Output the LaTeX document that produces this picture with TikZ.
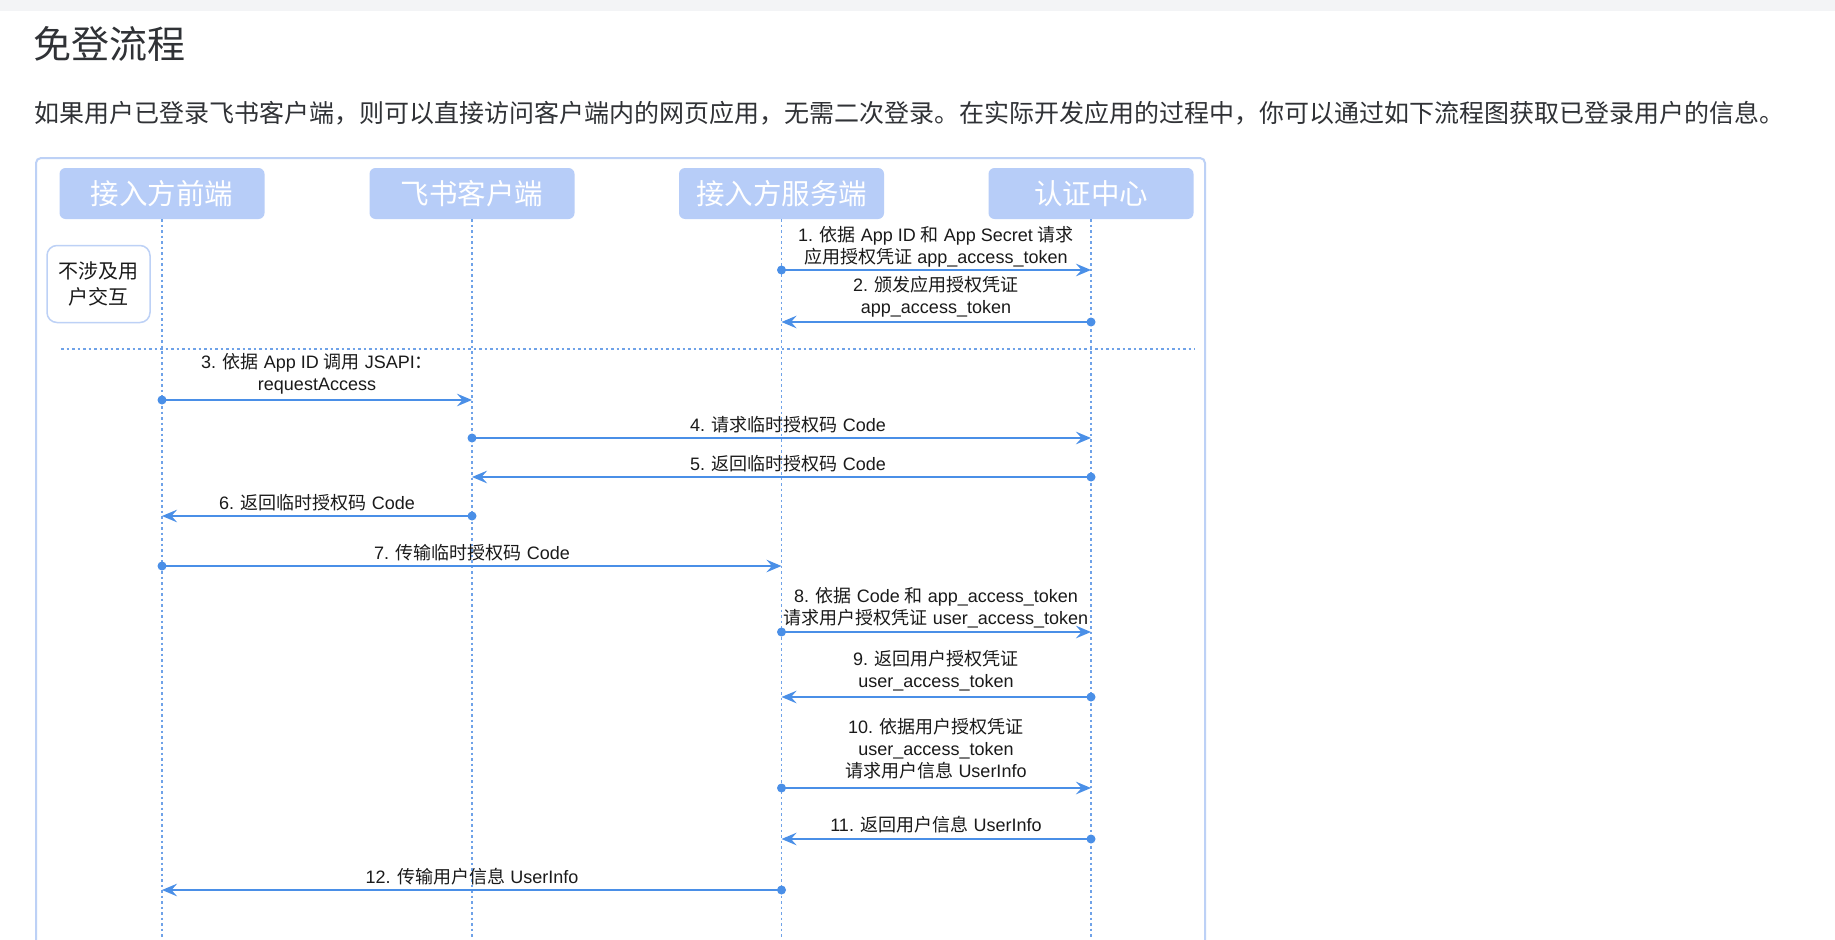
\documentclass[tikz,border=0pt]{standalone}
\usepackage{fontspec}
\setmainfont{Liberation Sans}
\newfontfamily\cjk{Noto Sans CJK SC}
\usetikzlibrary{arrows.meta}
\definecolor{arrowblue}{HTML}{4A8FE7}
\definecolor{lifeblue}{HTML}{6FA2E8}
\definecolor{hdrfill}{HTML}{B7CDF8}
\definecolor{framecol}{HTML}{BDD1F6}
\definecolor{topgray}{HTML}{F3F4F6}
\definecolor{titletext}{HTML}{303236}
\definecolor{labeltext}{HTML}{1A1A1A}
\newcommand{\lastdp}{\rule[-5pt]{0pt}{5pt}}
\tikzset{
  hdr/.style={fill=hdrfill, rounded corners=6pt, minimum width=205pt, minimum height=51pt,
    text=white, font=\cjk\fontsize{28.5}{30}\selectfont, inner sep=0pt},
  sidebox/.style={draw=framecol, line width=1.5pt, fill=white, rounded corners=10pt,
    minimum width=103pt, minimum height=77pt, inner sep=0pt, align=center,
    text=labeltext, font=\cjk\fontsize{20}{26}\selectfont},
  life/.style={draw=lifeblue, line width=1.2pt, dash pattern=on 2.5pt off 3pt},
  msg/.style={draw=arrowblue, line width=2.4pt, -{Stealth[length=15pt,width=12.5pt,inset=5.5pt]}},
  lbl/.style={anchor=south, inner sep=0pt, align=center,
    font=\fontsize{18}{22}\selectfont, text=labeltext},
}
\begin{document}
\begin{tikzpicture}[x=1pt,y=-1pt]
\useasboundingbox (0,0) rectangle (1835,939);
\fill[white] (0,0) rectangle (1835,939);
\fill[topgray] (0,0) rectangle (1835,11);

% title and intro
\node[anchor=base west, inner sep=0pt, text=titletext, font=\cjk\fontsize{38}{42}\selectfont]
  (title) at (33,59) {免登流程};
\node[anchor=base west, inner sep=0pt, text=titletext, font=\cjk\fontsize{25}{28}\selectfont]
  (intro) at (34,123) {如果用户已登录飞书客户端，则可以直接访问客户端内的网页应用，无需二次登录。在实际开发应用的过程中，你可以通过如下流程图获取已登录用户的信息。};

% frame
\begin{scope}
\clip (0,0) rectangle (1835,939);
\draw[framecol, line width=2pt, rounded corners=5pt] (36,158) rectangle (1205,980);
\end{scope}

% headers
\node[hdr] (h1) at (162,193.5) {接入方前端};
\node[hdr] (h2) at (472,193.5) {飞书客户端};
\node[hdr] (h3) at (781.5,193.5) {接入方服务端};
\node[hdr] (h4) at (1091,193.5) {认证中心};

% lifelines
\coordinate (e1) at (162,939);
\coordinate (e2) at (472,939);
\coordinate (e3) at (781.5,939);
\coordinate (e4) at (1091,939);
\draw[life] (h1.south) -- (e1);
\draw[life] (h2.south) -- (e2);
\draw[life] (h3.south) -- (e3);
\draw[life] (h4.south) -- (e4);

% side note
\node[sidebox] (note) at (98.5,284) {不涉及用\\户交互};

% separator
\coordinate (sepL) at (61,349);
\coordinate (sepR) at (1195,349);
\draw[life] (sepL) -- (sepR);

% message end points
\coordinate (m1s) at (781.5,270);  \coordinate (m1e) at (1091,270);
\coordinate (m2s) at (1091,322);   \coordinate (m2e) at (781.5,322);
\coordinate (m3s) at (162,400);    \coordinate (m3e) at (472,400);
\coordinate (m4s) at (472,438);    \coordinate (m4e) at (1091,438);
\coordinate (m5s) at (1091,477);   \coordinate (m5e) at (472,477);
\coordinate (m6s) at (472,516);    \coordinate (m6e) at (162,516);
\coordinate (m7s) at (162,566);    \coordinate (m7e) at (781.5,566);
\coordinate (m8s) at (781.5,632);  \coordinate (m8e) at (1091,632);
\coordinate (m9s) at (1091,697);   \coordinate (m9e) at (781.5,697);
\coordinate (m10s) at (781.5,788); \coordinate (m10e) at (1091,788);
\coordinate (m11s) at (1091,839);  \coordinate (m11e) at (781.5,839);
\coordinate (m12s) at (781.5,890); \coordinate (m12e) at (162,890);

\foreach \i in {1,...,12}{
  \draw[msg] (m\i s) -- (m\i e);
  \fill[arrowblue] (m\i s) circle[radius=4.5pt];
}

% labels
\node[lbl] (l1) at (936,268.5) {1. {\cjk 依据} App ID {\cjk 和} App Secret {\cjk 请求}\\{\cjk 应用授权凭证} app\_access\_token\lastdp};
\node[lbl] (l2) at (936,318.5) {2. {\cjk 颁发应用授权凭证}\\app\_access\_token\lastdp};
\node[lbl] (l3) at (317,395.5) {3. {\cjk 依据} App ID {\cjk 调用} JSAPI{\cjk ：}\\requestAccess\lastdp};
\node[lbl] (l4) at (788,437) {4. {\cjk 请求临时授权码} Code\lastdp};
\node[lbl] (l5) at (788,475.5) {5. {\cjk 返回临时授权码} Code\lastdp};
\node[lbl] (l6) at (317,514.5) {6. {\cjk 返回临时授权码} Code\lastdp};
\node[lbl] (l7) at (472,565) {7. {\cjk 传输临时授权码} Code\lastdp};
\node[lbl] (l8) at (936,629.5) {8. {\cjk 依据} Code {\cjk 和} app\_access\_token\\{\cjk 请求用户授权凭证} user\_access\_token\lastdp};
\node[lbl] (l9) at (936,692.5) {9. {\cjk 返回用户授权凭证}\\user\_access\_token\lastdp};
\node[lbl] (l10) at (936,782.5) {10. {\cjk 依据用户授权凭证}\\user\_access\_token\\{\cjk 请求用户信息} UserInfo\lastdp};
\node[lbl] (l11) at (936,836.5) {11. {\cjk 返回用户信息} UserInfo\lastdp};
\node[lbl] (l12) at (472,889) {12. {\cjk 传输用户信息} UserInfo\lastdp};
\end{tikzpicture}
\end{document}
